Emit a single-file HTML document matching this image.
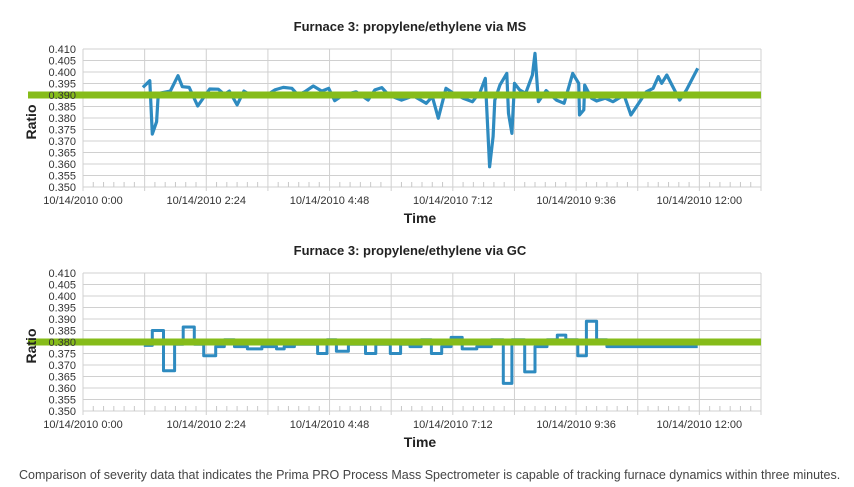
<!DOCTYPE html>
<html><head><meta charset="utf-8">
<style>
body{margin:0;background:#fff;width:854px;height:487px;overflow:hidden;font-family:"Liberation Sans",sans-serif}
svg{position:absolute;left:0;top:0}
</style></head>
<body>
<svg id="chart" width="854" height="487"></svg>
<script>
const xTickLabels=["10/14/2010 0:00","10/14/2010 2:24","10/14/2010 4:48","10/14/2010 7:12","10/14/2010 9:36","10/14/2010 12:00"];
const yTicks=[0.410,0.405,0.400,0.395,0.390,0.385,0.380,0.375,0.370,0.365,0.360,0.355,0.350];
const msTimes=[70,78,81,86,88,102,111,116,124,134,148,158,165,171,180,188,199,215,224,234,244,251,259,269,279,287,294,304,319,333,341,349,357,372,386,401,408,415,424,433,444,455,464,470,475,479,481,487,495,497,501,504,510,517,525,528,532,541,553,562,572,579,580,585,586,594,600,610,619,632,640,658,666,672,676,682,697,705,718];
const msValues=[0.3933,0.3962,0.373,0.3784,0.3907,0.3917,0.3984,0.3936,0.3933,0.3852,0.3926,0.3925,0.3903,0.3917,0.3857,0.3917,0.3893,0.390,0.3922,0.3933,0.3929,0.390,0.3914,0.3939,0.3917,0.3929,0.3875,0.390,0.3914,0.3878,0.3922,0.3932,0.390,0.3878,0.3896,0.3864,0.3893,0.3799,0.3929,0.3907,0.3886,0.3871,0.3914,0.3972,0.3588,0.3719,0.3878,0.3943,0.3994,0.3820,0.3733,0.3951,0.3922,0.3907,0.3987,0.4081,0.3871,0.3919,0.3878,0.3864,0.3994,0.3951,0.3813,0.3835,0.3943,0.3886,0.3874,0.3886,0.3871,0.390,0.3813,0.3914,0.3929,0.3980,0.3951,0.3987,0.3878,0.3922,0.4016];
const msReference=0.390;
const gcTimes=[71,81,94,107,117,130,141,155,165,177,192,209,226,235,247,274,285,296,310,330,342,359,371,382,395,407,419,430,443,460,477,491,501,516,528,542,554,564,578,588,600,612];
const gcValues=[0.3785,0.385,0.3675,0.379,0.3865,0.379,0.374,0.378,0.381,0.378,0.377,0.378,0.377,0.378,0.379,0.375,0.381,0.376,0.379,0.375,0.379,0.375,0.379,0.378,0.381,0.375,0.378,0.382,0.377,0.378,0.381,0.362,0.381,0.367,0.378,0.381,0.383,0.381,0.374,0.389,0.381,0.378];
const gcEnd=718;
const gcReference=0.380;

const NS="http://www.w3.org/2000/svg";
const svg=document.getElementById('chart');
function mk(tag,attrs,parent,text){const e=document.createElementNS(NS,tag);for(const k in attrs)e.setAttribute(k,attrs[k]);if(text!==undefined)e.textContent=text;(parent||svg).appendChild(e);return e;}
const X0=83,X1=761,TMAX=792;
function xs(t){return X0+t/TMAX*(X1-X0);}

function panel(top,title,name){
  const g=mk('g',{});
  
  
  const grid=mk('g',{},g), data=mk('g',{},g), labels=mk('g',{},g);
  const yTop=top,yBot=top+138;
  const ys=v=>yTop+(0.410-v)/0.06*(yBot-yTop);
  const t=mk('text',{x:410,y:top-18,'text-anchor':'middle','font-size':13,'font-weight':'bold',fill:'#222'},labels,title);
  
  
  yTicks.forEach(v=>{
    mk('line',{x1:X0,x2:X1,y1:ys(v),y2:ys(v),stroke:'#d0d0d0','stroke-width':1},grid);
    const l=mk('text',{x:76,y:ys(v)+4,'text-anchor':'end','font-size':11,fill:'#333'},labels,v.toFixed(3));
    
    
  });
  for(let m=0;m<=TMAX;m+=12){
    const x=xs(m);
    if(m%72===0) mk('line',{x1:x,x2:x,y1:yTop,y2:yBot+4,stroke:'#d0d0d0','stroke-width':1},grid);
    else mk('line',{x1:x,x2:x,y1:yBot-5,y2:yBot,stroke:'#c8c8c8','stroke-width':1},grid);
  }
  xTickLabels.forEach((s,i)=>{
    const l=mk('text',{x:xs(i*144),y:yBot+17,'text-anchor':'middle','font-size':11,fill:'#333'},labels,s);
    
    
  });
  const xt=mk('text',{x:420,y:yBot+36,'text-anchor':'middle','font-size':14,'font-weight':'bold',fill:'#222'},labels,'Time');
  
  
  const yt=mk('text',{transform:`translate(36,${(yTop+yBot)/2+4}) rotate(-90)`,'text-anchor':'middle','font-size':14,'font-weight':'bold',fill:'#222'},labels,'Ratio');
  
  
  return {g:data,ys};
}

const p1=panel(49,'Furnace 3: propylene/ethylene via MS','ms-chart');
let d=msTimes.map((t,i)=>(i?'L':'M')+xs(t).toFixed(1)+','+p1.ys(msValues[i]).toFixed(1)).join('');
const l1=mk('path',{d,fill:'none',stroke:'#2e8bc0','stroke-width':3.2,'stroke-linejoin':'round'},p1.g);


const r1=mk('line',{x1:X0-55,x2:X1,y1:p1.ys(msReference),y2:p1.ys(msReference),stroke:'#86bc1a','stroke-width':7},p1.g);



const p2=panel(273,'Furnace 3: propylene/ethylene via GC','gc-chart');
let d2='M'+xs(gcTimes[0]).toFixed(1)+','+p2.ys(gcValues[0]).toFixed(1);
for(let i=1;i<gcTimes.length;i++){d2+='H'+xs(gcTimes[i]).toFixed(1)+'V'+p2.ys(gcValues[i]).toFixed(1);}
d2+='H'+xs(gcEnd).toFixed(1);
const l2=mk('path',{d:d2,fill:'none',stroke:'#2e8bc0','stroke-width':3,'stroke-linejoin':'round'},p2.g);


const r2=mk('line',{x1:X0-55,x2:X1,y1:p2.ys(gcReference),y2:p2.ys(gcReference),stroke:'#86bc1a','stroke-width':7},p2.g);



const cap=mk('text',{x:19,y:479,'font-size':12.5,fill:'#444'},svg,'Comparison of severity data that indicates the Prima PRO Process Mass Spectrometer is capable of tracking furnace dynamics within three minutes.');


</script>
</body></html>
